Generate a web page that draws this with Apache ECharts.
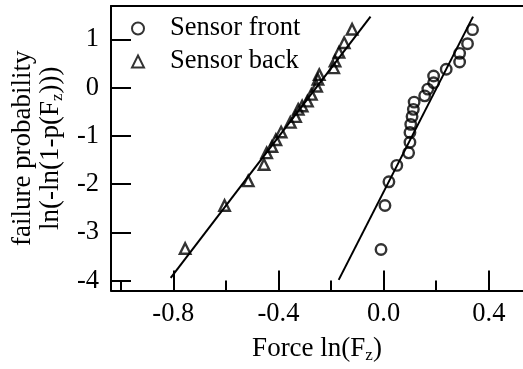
<!DOCTYPE html>
<html><head><meta charset="utf-8">
<script src="https://cdn.jsdelivr.net/npm/echarts@6/dist/echarts.min.js"></script>
<style>html,body{margin:0;padding:0;background:#fff}#c{width:523px;height:369px}</style>
</head><body><div id="c"></div>
<script>
// Sensor back (triangles): [ln(Fz), ln(-ln(1-p))]
var backPoints = [
  [-0.755,-3.33],[-0.605,-2.44],[-0.515,-1.93],[-0.455,-1.59],[-0.445,-1.35],
  [-0.425,-1.22],[-0.41,-1.08],[-0.39,-0.92],[-0.355,-0.72],[-0.335,-0.60],
  [-0.325,-0.45],[-0.31,-0.38],[-0.29,-0.28],[-0.275,-0.14],[-0.255,0.03],
  [-0.25,0.17],[-0.245,0.27],[-0.19,0.41],[-0.185,0.55],[-0.17,0.73],
  [-0.15,0.93],[-0.12,1.21]
];
// Sensor front (circles)
var frontPoints = [
  [-0.01,-3.35],[0.005,-2.44],[0.02,-1.95],[0.05,-1.61],[0.095,-1.35],
  [0.10,-1.13],[0.10,-0.93],[0.103,-0.76],[0.108,-0.60],[0.113,-0.45],
  [0.116,-0.30],[0.156,-0.17],[0.168,-0.03],[0.19,0.10],[0.19,0.24],
  [0.238,0.38],[0.289,0.53],[0.289,0.71],[0.319,0.91],[0.338,1.20]
];
// Fitted lines (end points)
var backFit = [[-0.81,-3.94],[-0.05,1.47]];
var frontFit = [[-0.171,-3.98],[0.34,1.47]];
// Tick values
var xMajorTicks = [-0.8,-0.4,0.0,0.4];
var xMinorTicks = [-1.0,-0.6,-0.2,0.2];
var yTicks = [-4,-3,-2,-1,0,1];
var seriesNames = ['Sensor front','Sensor back'];

var FONT = 'Liberation Serif';
var FS = 26.5;
var XMIN=-1.037, XMAX=0.53, YMIN=-4.2, YMAX=1.69;
var chart = echarts.init(document.getElementById('c'));
var hollow = {color:'rgba(0,0,0,0)', borderColor:'#000', borderWidth:2.4};
var subRich = {
  base:{fontFamily:FONT,fontSize:27,color:'#000',lineHeight:30},
  sub:{fontFamily:FONT,fontSize:17,color:'#000',lineHeight:16,padding:[14,0,0,0]}
};
chart.setOption({
  animation:false,
  backgroundColor:'#fff',
  grid:{left:108,top:6,right:0,bottom:77,containLabel:false},
  legend:{
    orient:'vertical', left:126, top:10, itemGap:6,
    itemWidth:12, itemHeight:12,
    data:[{name:seriesNames[0],icon:'circle'},{name:seriesNames[1],icon:'triangle'}],
    textStyle:{fontFamily:FONT,fontSize:FS,color:'#000',padding:[0,0,0,21]}
  },
  xAxis:[
    {type:'value',min:XMIN,max:XMAX,position:'bottom',
     name:'{base|Force ln(F}{sub|z}{base|)}',nameLocation:'middle',nameGap:43,
     nameTextStyle:{rich:subRich},
     axisLine:{show:true,onZero:false,lineStyle:{color:'#000',width:2}},
     axisTick:{show:true,inside:true,length:20,customValues:xMajorTicks,lineStyle:{color:'#000',width:2}},
     axisLabel:{show:true,margin:10,customValues:xMajorTicks,fontFamily:FONT,fontSize:FS,color:'#000',
       formatter:function(v){return v.toFixed(1);}},
     splitLine:{show:false}},
    {type:'value',min:XMIN,max:XMAX,position:'bottom',
     axisLine:{show:false,onZero:false},
     axisTick:{show:true,inside:true,length:10,customValues:xMinorTicks,lineStyle:{color:'#000',width:2}},
     axisLabel:{show:false},splitLine:{show:false}},
    {type:'value',min:XMIN,max:XMAX,position:'top',
     axisLine:{show:true,onZero:false,lineStyle:{color:'#000',width:2}},
     axisTick:{show:false},axisLabel:{show:false},splitLine:{show:false}}
  ],
  yAxis:[
    {type:'value',min:YMIN,max:YMAX,position:'left',
     name:'{base|ln(-ln(1-p(F}{sub|z}{base|)))}',
     nameLocation:'middle',nameGap:41,nameRotate:90,
     nameTextStyle:{rich:subRich},
     axisLine:{show:true,onZero:false,lineStyle:{color:'#000',width:2}},
     axisTick:{show:true,inside:true,length:20,customValues:yTicks,lineStyle:{color:'#000',width:2}},
     axisLabel:{show:true,margin:12,customValues:yTicks,fontFamily:FONT,fontSize:FS,color:'#000'},
     splitLine:{show:false}},
    {type:'value',min:YMIN,max:YMAX,position:'left',
     name:'failure probability',
     nameLocation:'middle',nameGap:73,nameRotate:90,
     nameTextStyle:{fontFamily:FONT,fontSize:27,color:'#000',lineHeight:30},
     axisLine:{show:false,onZero:false},axisTick:{show:false},axisLabel:{show:false},splitLine:{show:false}}
  ],
  series:[
    {name:seriesNames[0],type:'scatter',symbol:'circle',symbolSize:10.5,data:frontPoints,itemStyle:hollow,z:3},
    {name:seriesNames[1],type:'scatter',symbol:'triangle',symbolSize:10.5,data:backPoints,itemStyle:hollow,z:3},
    {type:'line',data:frontFit,showSymbol:false,symbol:'none',lineStyle:{color:'#000',width:2},z:2},
    {type:'line',data:backFit,showSymbol:false,symbol:'none',lineStyle:{color:'#000',width:2},z:2}
  ]
});
</script></body></html>
